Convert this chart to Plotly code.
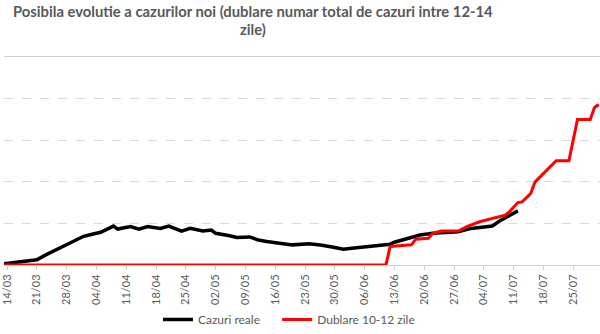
import plotly.graph_objects as go

# Daily new cases, observed
real_dates = [
    "2020-03-13", "2020-03-18", "2020-03-21", "2020-03-23", "2020-03-25", "2020-03-28",
    "2020-03-30", "2020-04-01", "2020-04-03", "2020-04-05", "2020-04-08", "2020-04-09",
    "2020-04-12", "2020-04-14", "2020-04-16", "2020-04-19", "2020-04-21", "2020-04-24",
    "2020-04-26", "2020-04-29", "2020-05-01", "2020-05-02", "2020-05-05", "2020-05-07",
    "2020-05-10", "2020-05-12", "2020-05-14", "2020-05-17", "2020-05-20", "2020-05-24",
    "2020-05-27", "2020-05-30", "2020-06-01", "2020-06-03", "2020-06-07", "2020-06-10",
    "2020-06-12", "2020-06-13", "2020-06-16", "2020-06-19", "2020-06-22", "2020-06-25",
    "2020-06-28", "2020-07-01", "2020-07-05", "2020-07-06", "2020-07-08", "2020-07-10",
    "2020-07-12",
]
real_values = [
    12, 44, 63, 119, 170, 242,
    286, 345, 369, 393, 468, 432,
    461, 432, 461, 440, 468, 408,
    440, 408, 420, 381, 354, 330,
    337, 301, 282, 258, 242, 254,
    238, 211, 190, 202, 223, 235,
    250, 274, 321, 361, 381, 393,
    401, 440, 468, 468, 539, 599,
    651,
]

# Projection with total cases doubling every 10-12 days
proj_dates = [
    "2020-03-13", "2020-06-11", "2020-06-12", "2020-06-13", "2020-06-17", "2020-06-18",
    "2020-06-21", "2020-06-22", "2020-06-24", "2020-06-28", "2020-06-30", "2020-07-03",
    "2020-07-06", "2020-07-09", "2020-07-10", "2020-07-12", "2020-07-13", "2020-07-15",
    "2020-07-16", "2020-07-18", "2020-07-21", "2020-07-24", "2020-07-26", "2020-07-29",
    "2020-07-30", "2020-07-31",
]
proj_values = [
    0, 0, 223, 226, 242, 310,
    321, 381, 408, 408, 461, 520,
    560, 599, 639, 750, 758, 857,
    996, 1095, 1254, 1254, 1750, 1750,
    1893, 1930,
]

series_names = ["Cazuri reale", "Dublare 10-12 zile"]
title_lines = [
    "Posibila evolutie a cazurilor noi (dublare numar total de cazuri intre 12-14",
    "zile)",
]

FONT = "Lato"
GREY_TXT = "#595959"
PLOT_H = 210  # plot area height in px (t=57, b=67)

fig = go.Figure()
fig.add_trace(go.Scatter(
    x=real_dates, y=real_values, name=series_names[0], mode="lines",
    line=dict(color="#000000", width=3.5), legend="legend",
))
fig.add_trace(go.Scatter(
    x=proj_dates, y=proj_values, name=series_names[1], mode="lines",
    line=dict(color="#ff0000", width=3), legend="legend2",
))

legend_common = dict(
    orientation="h", xanchor="left", y=-55 / PLOT_H, yanchor="middle",
    font=dict(size=12, color=GREY_TXT), itemwidth=30,
    bgcolor="rgba(0,0,0,0)",
)

fig.update_layout(
    width=600, height=334,
    margin=dict(l=0, r=0, t=57, b=67),
    paper_bgcolor="white", plot_bgcolor="white",
    font=dict(family=FONT, color=GREY_TXT),
    showlegend=True,
    legend=dict(x=155 / 600, **legend_common),
    legend2=dict(x=275 / 600, **legend_common),
    annotations=[
        dict(
            text=line, xref="paper", yref="paper",
            x=0.418, y=1 + (57 - cy) / PLOT_H, xanchor="center", yanchor="middle",
            showarrow=False, align="center",
            font=dict(family=FONT, size=14.8, color=GREY_TXT, weight="bold"),
        )
        for line, cy in zip(title_lines, [11, 29])
    ],
)

fig.update_xaxes(
    type="date",
    range=["2020-03-13 07:00", "2020-07-31 07:00"],
    tick0="2020-03-14", dtick=7 * 24 * 3600 * 1000,
    tickformat="%d/%m", tickangle=-90,
    tickfont=dict(size=11, color=GREY_TXT),
    ticklabeloverflow="allow",
    ticks="outside", ticklen=4, tickcolor="#d0d0d0",
    showgrid=False, showline=True, mirror=True, linecolor="#d0d0d0", linewidth=1,
)
fig.update_yaxes(
    range=[0, 2500], dtick=500,
    showticklabels=False, ticks="",
    showgrid=True, gridcolor="#d9d9d9", griddash="dash", gridwidth=1,
    zeroline=False, showline=False,
)

fig.write_html("out.html")
